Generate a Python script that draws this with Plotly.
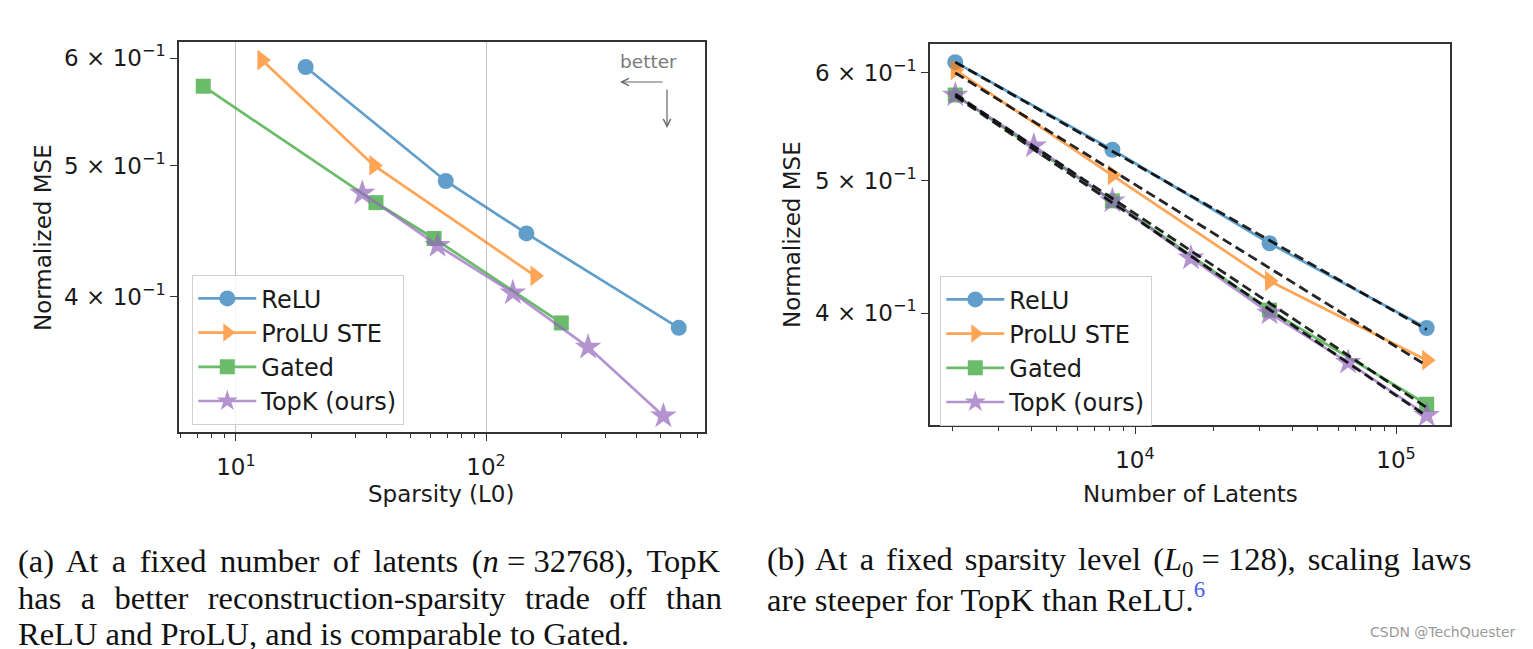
import numpy as np
import plotly.graph_objects as go

W, H = 1533, 649
OFF = 8  # the page body margin shifts the figure by 8 px; compensate

# ---------------- data: panel (a) ----------------
sparsity_relu = [19, 69, 145, 590]
mse_relu_a = [0.591, 0.487, 0.4455, 0.3795]
sparsity_prolu = [12.7, 35.6, 157]
mse_prolu_a = [0.598, 0.500, 0.4146]
sparsity_gated = [7.4, 36.3, 62, 200]
mse_gated_a = [0.572, 0.4694, 0.4417, 0.3827]
sparsity_topk = [32, 64, 128, 256, 512]
mse_topk_a = [0.477, 0.4365, 0.4028, 0.3673, 0.3268]

# ---------------- data: panel (b) ----------------
latents_main = [2048, 8192, 32768, 131072]
mse_relu_b = [0.611, 0.527, 0.450, 0.390]
mse_prolu_b = [0.603, 0.505, 0.4223, 0.3694]
mse_gated_b = [0.578, 0.4834, 0.402, 0.3429]
latents_topk = [2048, 4096, 8192, 16384, 32768, 65536, 131072]
mse_topk_b = [0.578, 0.5304, 0.4834, 0.439, 0.400, 0.3681, 0.3366]

# power-law fit lines (end points)
fit_latents = [2048, 131072]
fit_relu = [0.611, 0.389]
fit_prolu = [0.600, 0.366]
fit_gated = [0.579, 0.341]
fit_topk = [0.577, 0.336]

names = ["ReLU", "ProLU STE", "Gated", "TopK (ours)"]
colors = ["#1f77b4", "#ff7f0e", "#2ca02c", "#9467bd"]
symbols = ["circle", "triangle-right", "square", "star"]
sizes = [16, 18, 15, 20]

FONT = "DejaVu Sans"
TXT = "#1a1a1a"


def px(x):
    return (x - OFF) / W


def py(y):
    return 1 - (y - OFF) / H


fig = go.Figure()

panel_a = [(sparsity_relu, mse_relu_a), (sparsity_prolu, mse_prolu_a),
           (sparsity_gated, mse_gated_a), (sparsity_topk, mse_topk_a)]
panel_b = [(latents_main, mse_relu_b), (latents_main, mse_prolu_b),
           (latents_main, mse_gated_b), (latents_topk, mse_topk_b)]

for i, (xs, ys) in enumerate(panel_a):
    fig.add_trace(go.Scatter(
        x=xs, y=ys, mode="lines+markers", name=names[i], opacity=0.7,
        line=dict(color=colors[i], width=2.7),
        marker=dict(symbol=symbols[i], size=sizes[i], color=colors[i]),
        xaxis="x", yaxis="y", legend="legend", legendgroup="a%d" % i))

for i, (xs, ys) in enumerate(panel_b):
    fig.add_trace(go.Scatter(
        x=xs, y=ys, mode="lines+markers", name=names[i], opacity=0.7,
        line=dict(color=colors[i], width=2.7),
        marker=dict(symbol=symbols[i], size=sizes[i], color=colors[i]),
        xaxis="x2", yaxis="y2", legend="legend2", legendgroup="b%d" % i))

for fy in [fit_relu, fit_prolu, fit_gated, fit_topk]:
    fig.add_trace(go.Scatter(
        x=fit_latents, y=fy, mode="lines", showlegend=False, opacity=0.85,
        line=dict(color="black", width=2.8, dash="10px,5px"),
        xaxis="x2", yaxis="y2", hoverinfo="skip"))

ytick_vals = [0.4, 0.5, 0.6]
ytick_text = ["4 × 10<sup>−1</sup>", "5 × 10<sup>−1</sup>", "6 × 10<sup>−1</sup>"]

axis_common = dict(
    type="log", showline=True, mirror=True, linecolor="#333", linewidth=1.5,
    ticks="outside", ticklen=7, tickwidth=1.3, tickcolor="#333",
    tickfont=dict(family=FONT, size=23, color=TXT), zeroline=False,
)

minor_a = [6, 7, 8, 9, 20, 30, 40, 50, 60, 70, 80, 90, 200, 300, 400, 500, 600, 700]
minor_b = [2000, 3000, 4000, 5000, 6000, 7000, 8000, 9000,
           20000, 30000, 40000, 50000, 60000, 70000, 80000, 90000]

legend_common = dict(
    xanchor="left", yanchor="top",
    bgcolor="rgba(255,255,255,0.8)", bordercolor="#d0d0d0", borderwidth=1.3,
    font=dict(family=FONT, size=24, color=TXT),
    itemwidth=58, tracegroupgap=0,
)

fig.update_layout(
    width=W, height=H, margin=dict(l=0, r=0, t=0, b=0),
    paper_bgcolor="white", plot_bgcolor="white",
    xaxis=dict(axis_common, domain=[px(179), px(705)],
               range=[np.log10(5.92), np.log10(751)],
               tickvals=[10, 100], ticktext=["10<sup>1</sup>", "10<sup>2</sup>"],
               ticklabelstandoff=7,
               showgrid=True, gridcolor="#c4c4c4", gridwidth=1.3,
               minor=dict(tickvals=minor_a, ticks="outside", ticklen=4,
                          tickcolor="#333", tickwidth=1.1, showgrid=False),
               anchor="y"),
    yaxis=dict(axis_common, domain=[py(432), py(42)],
               range=[np.log10(0.318), np.log10(0.6166)],
               tickvals=ytick_vals, ticktext=ytick_text, showgrid=False,
               anchor="x"),
    xaxis2=dict(axis_common, domain=[px(930), px(1450)],
                range=[np.log10(1639), np.log10(161000)],
                tickvals=[10000, 100000], ticktext=["10<sup>4</sup>", "10<sup>5</sup>"],
                ticklabelstandoff=7,
                showgrid=False,
                minor=dict(tickvals=minor_b, ticks="outside", ticklen=4,
                           tickcolor="#333", tickwidth=1.1, showgrid=False),
                anchor="y2"),
    yaxis2=dict(axis_common, domain=[py(425), py(44)],
                range=[np.log10(0.3311), np.log10(0.630)],
                tickvals=ytick_vals, ticktext=ytick_text, showgrid=False,
                anchor="x2"),
    legend=dict(legend_common, x=px(192), y=py(275)),
    legend2=dict(legend_common, x=px(940), y=py(276)),
    showlegend=True,
)

ann = []
# axis titles
ann.append(dict(x=px(43), y=py(238), text="Normalized MSE", textangle=-90,
                font=dict(family=FONT, size=23, color=TXT)))
ann.append(dict(x=px(792), y=py(235), text="Normalized MSE", textangle=-90,
                font=dict(family=FONT, size=23, color=TXT)))
ann.append(dict(x=px(441), y=py(494), text="Sparsity (L0)",
                font=dict(family=FONT, size=23, color=TXT)))
ann.append(dict(x=px(1190), y=py(494), text="Number of Latents",
                font=dict(family=FONT, size=23, color=TXT)))

# "better" hint
ann.append(dict(x=px(648), y=py(61), text="better",
                font=dict(family=FONT, size=18.5, color="#7a7a7a")))
ann.append(dict(x=px(620), y=py(82), text="", showarrow=True, ax=44, ay=0,
                arrowhead=5, arrowsize=1.2, arrowwidth=1.2, arrowcolor="#666"))
ann.append(dict(x=px(667), y=py(128), text="", showarrow=True, ax=0, ay=-40,
                arrowhead=5, arrowsize=1.2, arrowwidth=1.2, arrowcolor="#666"))

# captions (justified lines get a little extra inter-word space)
SERIF = "Liberation Serif"
cap_font = dict(family=SERIF, size=32.5, color="#111")


def justify(words, extra, reps=1):
    gap = ("<span style='font-size:%.1fpx'>\u00a0</span>" % extra) * reps + " "
    return gap.join(words)


cap_a = [
    justify(["(a)", "At", "a", "fixed", "number", "of", "latents",
             "(<i>n</i> = 32768),", "TopK"], 21.5),
    justify(["has", "a", "better", "reconstruction-sparsity", "trade", "off", "than"], 22.4, 2),
    "ReLU and ProLU, and is comparable to Gated.",
]
cap_b = [
    justify(["(b)", "At", "a", "fixed", "sparsity", "level",
             "(<i>L</i><sub>0</sub> = 128),", "scaling", "laws"], 15.5),
    "are steeper for TopK than ReLU.<sup><span style='color:#4a5cf0'>6</span></sup>",
]
cap_y = [561, 597.5, 634]
for i, t in enumerate(cap_a):
    ann.append(dict(x=px(16), y=py(cap_y[i]), text=t, xanchor="left", font=cap_font))
for i, t in enumerate(cap_b):
    ann.append(dict(x=px(765), y=py(cap_y[i]), text=t, xanchor="left", font=cap_font))

# watermark
ann.append(dict(x=px(1518), y=py(632), text="CSDN @TechQuester", xanchor="right",
                font=dict(family=FONT, size=14, color="#9a9a9a")))

for a in ann:
    a.setdefault("xref", "paper")
    a.setdefault("yref", "paper")
    a.setdefault("showarrow", False)
    a.setdefault("yanchor", "middle")
    a.setdefault("xanchor", "center")

fig.update_layout(annotations=ann)

fig.write_html("out.html")
